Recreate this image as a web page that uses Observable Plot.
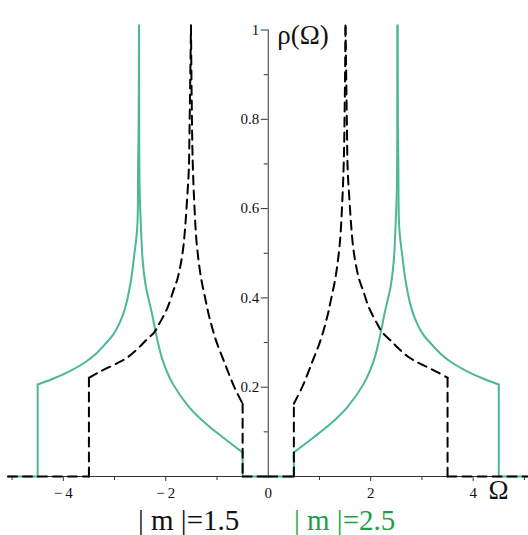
<!DOCTYPE html>
<html>
<head>
<meta charset="utf-8">
<script src="https://cdn.jsdelivr.net/npm/d3@7"></script>
<script src="https://cdn.jsdelivr.net/npm/@observablehq/plot@0.6"></script>
<style>
  html, body { margin: 0; padding: 0; background: white; }
  #wrap { width: 528px; }
  #legend { position: relative; width: 528px; height: 35px; font-family: "Liberation Serif", serif; font-size: 29px; line-height: 29px; }
  #legend span { position: absolute; top: 6px; white-space: pre; }
</style>
</head>
<body>
<div id="wrap">
  <div id="chart"></div>
  <div id="legend"></div>
</div>
<script>
// ---- Data (positive half; the figure is symmetric in Ω) ----
// |m| = 2.5 (green, solid)
const greenOmega = [0, 0.5, 0.5, 0.889, 1.215, 1.541, 1.865, 2.061, 2.191, 2.27, 2.338, 2.387, 2.451, 2.484, 2.51, 2.52, 2.523,
                    2.529, 2.539, 2.557, 2.611, 2.68, 2.748, 2.807, 2.895, 3.012, 3.188, 3.363, 3.559, 3.891, 4.203, 4.5, 4.5, 5.08];
const greenRho   = [0, 0, 0.054, 0.088, 0.118, 0.155, 0.208, 0.26, 0.32, 0.365, 0.399, 0.424, 0.484, 0.558, 0.64, 0.84, 1.01,
                    0.8, 0.708, 0.558, 0.5, 0.439, 0.398, 0.372, 0.345, 0.32, 0.296, 0.275, 0.257, 0.235, 0.219, 0.206, 0, 0];
// |m| = 1.5 (black, dashed)
const blackOmega = [0, 0.5, 0.5, 0.531, 0.662, 0.857, 1.02, 1.15, 1.215, 1.313, 1.396, 1.443, 1.475, 1.494, 1.508,
                    1.523, 1.537, 1.551, 1.586, 1.619, 1.654, 1.703, 1.771, 1.85, 1.963, 2.127, 2.225, 2.387, 2.549,
                    2.744, 2.908, 3.299, 3.5, 3.5, 5.08];
const blackRho   = [0, 0, 0.163, 0.17, 0.2, 0.256, 0.305, 0.357, 0.391, 0.446, 0.521, 0.611, 0.708, 0.842, 1.01,
                    0.887, 0.775, 0.685, 0.618, 0.562, 0.517, 0.479, 0.443, 0.417, 0.379, 0.342, 0.323, 0.305, 0.286,
                    0.267, 0.256, 0.234, 0.221, 0, 0];

// ---- Ticks and labels ----
const xMajorTicks = [-4, -2, 2, 4];
const xMinorTicks = [-5, -3, -1, 1, 3, 5];
const xTickLabels = [-4, -2, 0, 2, 4];
const yMajorTicks = [0.2, 0.4, 0.6, 0.8, 1];
const yMinorTicks = [0.1, 0.3, 0.5, 0.7, 0.9];
const yAxisTitle = "ρ(Ω)";
const xAxisTitle = "Ω";
const legendLabels = ["| m |=1.5", "| m |=2.5"];
const legendColors = ["#111111", "#1f9e45"];

const greenColor = "#4cb88f";

function mirror(om, rh) {
  const pts = [];
  for (let i = om.length - 1; i >= 0; i--) pts.push({x: -om[i], y: rh[i]});
  for (let i = 0; i < om.length; i++) pts.push({x: om[i], y: rh[i]});
  return pts;
}
// split the polyline into pieces at vertical jumps and at the clipped peaks
function pieces(pts) {
  const out = [];
  let id = 0;
  out.push({...pts[0], seg: 0});
  for (let i = 1; i < pts.length; i++) {
    const a = pts[i - 1], b = pts[i];
    const vertical = b.x === a.x;
    const prevVertical = i >= 2 && pts[i - 1].x === pts[i - 2].x;
    if (vertical || prevVertical || a.y >= 1) {
      id++;
      out.push({...a, seg: id});
    }
    out.push({...b, seg: id});
  }
  return out;
}
const green = pieces(mirror(greenOmega, greenRho));
const black = pieces(mirror(blackOmega, blackRho));

const fmtX = d => d < 0 ? "\u2212\u2009" + Math.abs(d) : String(d);
const serif = "'Liberation Serif', 'Times New Roman', serif";

const chart = Plot.plot({
  width: 528,
  height: 500,
  marginLeft: 8,
  marginRight: 0,
  marginTop: 29.5,
  marginBottom: 24,
  x: {domain: [-5.07, 5.08], axis: null},
  y: {domain: [0, 1], axis: null},
  style: {background: "white", overflow: "visible"},
  marks: [
    Plot.ruleY([0], {stroke: "#333", strokeWidth: 1}),
    Plot.ruleX([0], {y1: 0, y2: 1, stroke: "#333", strokeWidth: 1}),
    Plot.ruleX(xMajorTicks, {x: d => d, y1: 0, y2: 0, insetBottom: -5, stroke: "#333"}),
    Plot.ruleX(xMinorTicks, {x: d => d, y1: 0, y2: 0, insetBottom: -4, stroke: "#333"}),
    Plot.ruleY(yMajorTicks, {y: d => d, x1: 0, x2: 0, insetLeft: -7, stroke: "#333"}),
    Plot.ruleY(yMinorTicks, {y: d => d, x1: 0, x2: 0, insetLeft: -4, stroke: "#333"}),
    Plot.text(xTickLabels, {x: d => d, y: 0, text: fmtX, dy: 17, fontSize: 15, fontFamily: serif, fill: "#111"}),
    Plot.text(yMajorTicks, {x: 0, y: d => d, text: d => String(d), dx: -9, textAnchor: "end", fontSize: 15, fontFamily: serif, fill: "#111"}),
    Plot.line(green, {x: "x", y: "y", z: "seg", curve: "catmull-rom", stroke: greenColor, strokeWidth: 2}),
    Plot.line(black, {x: "x", y: "y", z: "seg", curve: "catmull-rom", stroke: "black", strokeWidth: 2, strokeDasharray: "9,6"}),
    Plot.text([yAxisTitle], {x: 0, frameAnchor: "top", dx: 9, dy: -5, textAnchor: "start", fontSize: 27, fontFamily: serif, fill: "#111"}),
    Plot.text([xAxisTitle], {frameAnchor: "bottom-right", dx: -30, dy: 22, textAnchor: "middle", fontSize: 27, fontFamily: serif, fill: "#111"})
  ]
});
document.getElementById("chart").appendChild(chart);

const legend = document.getElementById("legend");
const legendLeft = [138, 294];
legendLabels.forEach((t, i) => {
  const s = document.createElement("span");
  s.textContent = t;
  s.style.left = legendLeft[i] + "px";
  s.style.color = legendColors[i];
  legend.appendChild(s);
});
</script>
</body>
</html>
